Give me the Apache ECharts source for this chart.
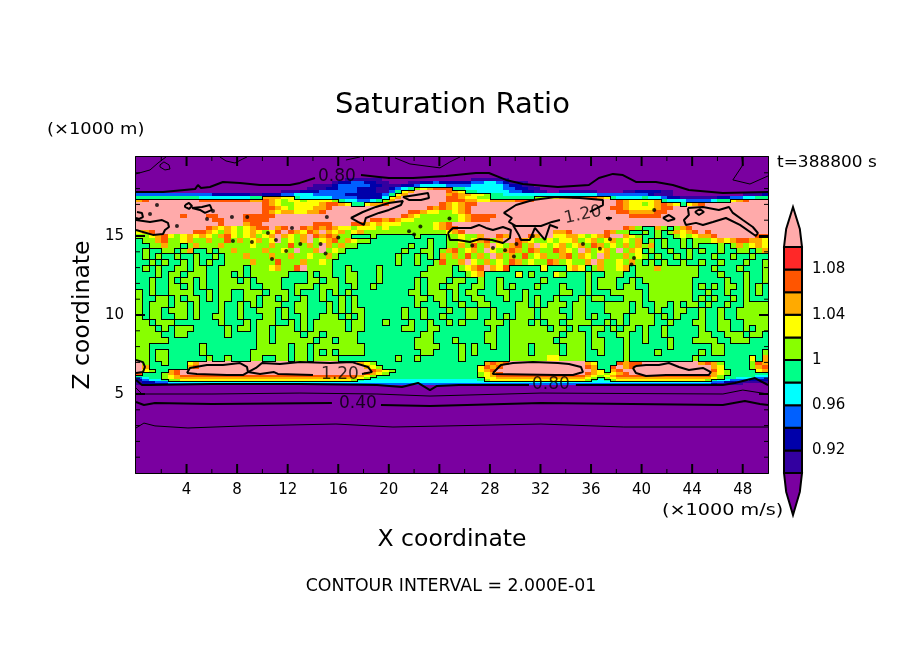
<!DOCTYPE html>
<html>
<head>
<meta charset="utf-8">
<title>Saturation Ratio</title>
<script src="https://cdn.jsdelivr.net/npm/echarts@6/dist/echarts.min.js"></script>
<style>
  html, body { margin: 0; background: #fff; }
  #main { width: 904px; height: 654px; }
</style>
</head>
<body>
<div id="main"></div>
<script>
// colour classes of the field, lowest to highest
const levelCodes = ["p", "i", "d", "b", "c", "s", "l", "y", "o", "r", "R", "k"];
const levelColors = ["#7a00a0", "#3300a0", "#0000aa", "#0060ff", "#00ffff", "#00ff88", "#88ff00", "#ffff00", "#ffaa00", "#ff5500", "#ff2828", "#ffaaaa"];
const colorbarEdges = [0.90, 0.92, 0.94, 0.96, 0.98, 1.00, 1.02, 1.04, 1.06, 1.08, 1.10];
const colorbarLabels = { "0.92": "0.92", "0.96": "0.96", "1.00": "1", "1.04": "1.04", "1.08": "1.08" };
const oneIndex = 6; // first class at or above 1.00

// tick positions on the frame
const xMajorTicks = [4, 8, 12, 16, 20, 24, 28, 32, 36, 40, 44, 48];
const xMinorTicks = [2, 6, 10, 14, 18, 22, 26, 30, 34, 38, 42, 46];
const zMajorTicks = [5, 10, 15];
const zMinorTicks = [1, 2, 3, 4, 6, 7, 8, 9, 11, 12, 13, 14, 16, 17, 18, 19];

// cells are 0.5 wide in X, rows have their own heights in Z (top to bottom)
const cellWidth = 0.5;
const rowEdges = [20, 18.67, 18.48, 18.29, 18.10, 17.91, 17.72, 17.53, 17.34, 17.15, 16.90, 16.65, 16.39, 16.14, 15.89, 15.63, 15.38, 15.13, 14.87, 14.56, 14.24, 13.92, 13.54, 13.16, 12.78, 12.41, 12.03, 11.65, 11.27, 10.89, 10.51, 10.13, 9.75, 9.37, 8.99, 8.61, 8.23, 7.85, 7.47, 7.09, 6.84, 6.58, 6.39, 6.20, 6.08, 5.95, 5.82, 5.70, 5.57, 0];
const fieldRows = [
  "pppppppppp pppppppppp pppppppppp pppppppppp pppppppppp pppppppppp pppppppppp pppppppppp pppppppppp pppppppppp",
  "pppppppppp pppppppppp pppppppppp pppiiiiiip pppppppppp pppiiiiiip pppppppppp pppppppppp pppppppppp pppppppppp",
  "pppppppppp pppppppppp pppppppppp piddbbddii pppiiddbdd dddbbccbdi iipppppppp pppppppppp pppppppppp pppppppppp",
  "pppppppppp pppppppppp ppppppppii idbbbbbddi iiddbccccb bbbcccccbd diippppppp pppppppppp pppppppppp pppppppppp",
  "pppppppppp pppppppppp pppppppiii ddbbbdddii dbcslyorrr ssccccccbb ddiipppppp pppppppppp pppppppppp pppppppppp",
  "pppppppppp pppppppppp pppiiidddb bbbbbdddii bsyokkkkkr oysscccccb bddiippiii iiippppiid dddiippppp pppppppppp",
  "bbbbbbbbbb bbddddddii dddbbcccbb bbbddddddb syokkkkkko rooyylsscc cccccccccc cccbbbbbbb bdiiippppp ppppppiiid",
  "ssssssssss ccccccccss oooyyscccc cbbbbddddc yokkkkkkkr royyllssss sssllyyoor rrroyscccc sccbddiiii iiddbbccss",
  "orkkkkkkkk rrrrrrrroo roylyylyyy ylsccbbcsl okkkkkkkkr rrooyyoooo rrrkkkkkkk kkkkkkroyy yyoscccbbb bcssyorkkk",
  "kkkkkkkkkk kkkkkkkkkk royllyyyyo rroyssyoor kkkkkkkkro yorrkkkkkk kkkkkkkkkk kkkkkkroyy lyoroysyor kkkkkkkkkk",
  "kkkkkkkkkk kkkkkkkkkk rroylyyyoo rkkkkkkkkk kkkkkkroro yorkkkkkkk kkkkkkkkkk kkkkkrroyy yyorrkkkkk kkkkkkkkkk",
  "kkkkkkkkkk kkkkkkkkkk royooyyoor kkkkkkkkkk kkkrroyyll yorkkkkkkk kkkkkkkkkk kkkkkkrroo oorrkkkkkk kkkkkkkkkk",
  "kkkkkkkrkk krrkkkkrrr rrkkkkkkkk kkkkkkkkkk kkroylllll lyorrrrkkk kkkkkkkkkk kkkkkkkkrr rrrkkkkkkk kkkkkkkkkk",
  "kkkkkkkkkk kkrrkkkrrr rkkkkkkkkk kkkkkkkrro royyllllll lyorrrkkkk kkkkkkkkkk kkkkkkkkkk kkkkkkkkkk kkkkkkkkkk",
  "kkkkkkkkkk kkkrkkkorr kkkkkkkkrr rkkkrroyoy yylllllyor kkkkkkkkkk kkkkkkkkkk kkkkkkkkkk kkkkkkkkkk kkkkkkkkkk",
  "kkkkkkkkkk kroyoylyor rkorkkroro royylyyyly lllllllyor rkkkkkkkkk kkkkkkkkkk kkkkkkkrol ssolslorkk kkkkkkkkkk",
  "yorkkkkkkr royloylyoy lyrkroyrok oyolyollll llllllllly orkkkkkkkk kkkkkkoork kkkkrollss lslsloyork rkkkkkkkkk",
  "llyorylyoy oylorylyol yokoylokro rollssslss sssslssssl lyllokkrok kkrokkyyoo ylyorkkoyl sslsslylyo orkkkkkkrr",
  "sllorllyol lollrlolyo lyklylokly orloyllsss sssssslssl lylyorlokk royllylyyo lyolyolylo slslsslsll lyoyorrooy",
  "ssllollslo lllollllyl lollrllolk olollsssss ssslsslssl lolrlokylo rlokylyoly olrolylolo loslsslsls sslslolyoy",
  "slssllslos slsllollll ollylkllok lylsssssss sslssllslo rlyolkylor olrollroyl kolyolkloy slsslsslsl sslssllslo",
  "slslsslssl sslsllloll lollollyll olssssssss slsslslsol olrlolkolo lrlyollorl oylkolloly lslsslslss slsslsslss",
  "sslslsslsl slssllllol llrlllolly lsssssssss slsslsslrl lokylolylr olyllrolyl lokollylol slslsslssl sslssslssl",
  "slslssllsl lssllllsll lyollrklll lsslssssls ssssssllll slyorkoyrs ssssysssyo yslollyosl llolllllls slssslsssl",
  "ssslsllsll lssllslsll llllssslsl lssllsssls ssssslllll sslyosssss yslsssylss slsslllssl llllllllls sslssslssl",
  "sslsslslls lsslllslsl lllsssslls llsllsssls sssslsllls llsslsslss sssslsssss slslllssls llllllllss ssslsslssl",
  "sslssllsls lsslllllss lllsslllsl llsslsslss sssslsllsl lssllsslsl ssslssslss slslllslls slllllllsl slsllslsls",
  "lslsslllls slsllsslll slllslsssl slslssssss sssllsllls lsllssslls slssssslls slssslllll slllllllss lsslsslsls",
  "lssllslsll slsllsslls llslsslssl sslslsssss ssssllslls lssllsssls slslsslsss lsllssslll slllllllsl slsslslsss",
  "lslllsllsl ssslsslsls lllssllsss lslslsssss sssslsssls slssllssss llslslllsl lsssllllsl ssllslslls lsslssllll",
  "lsllslllsl ssslsslssl llslsllsss lslsllssss sslsslsssl ssllsslsss lllslllssl lsssllllsl lslssllssl sslsslllll",
  "lsllssllsl ssllsslsss llslsslssl llslslssss sslsslssls ssllsslsls lllsllllsl lslssllsll llslslsssl sslsslllll",
  "llslllssss ssslssslsl llsslslsll lllsllsssl ssslsslssl slssslllsl llslsllsll llsslslsll llsslsssll ssllssllll",
  "lllslsllls sssslsllsl lslllslsll lllsllssss ssllssllss sssssslssl lllllsllsl ssllslslls lsslsssssl ssllsslsll",
  "llllssllss sssslssssl lsllllslls lllllsssss sssssllsss sssssllssl lllllllsll lslsssllss lsslsssssl lsslllslls",
  "lllllsssss sssssssssl lsllllllsl lslllsssss sssslllsss lssssllssl llllllslll lsllssslss lssslsssll llsslllsss",
  "llssssssss lssssssssl llllsllsll llllllssss ssssllllss slslsslssl llsllllsll lsllssslss sssslsssss sllsssssss",
  "llsllsssss lsssssssll llllsllsls lsllllssss sssssllsss slslsssssl llsllllsll lsslssslss sslssssssl sllssssssl",
  "llsllsssss slsslsssll ssllsllsll llssssssss slsslsssss slsssssssl lllllyylll lsssssslss ssssssssls sssssssyso",
  "klsslsssyo kkkkkkkkkk kkkkkkkkkk kkkkkoylss ssssssssss sssssorork kkkkkkkkkk koysssrorr kkkkkkkkko rolsssslro",
  "kossssssor kkkkkkkkkk kkkkkkkkkk kkkkkkoyls ssssssssss ssssyrorkk kkkkkkkkkk krossrkork kkkkkkkkkk koysssslor",
  "kylssorkkk kkkkkkkkkk kkkkkkkkkk kkkkkkkroy lsssssssss ssssyorkkk kkkkkkkkkk kkoysorkkk kkkkkkkkkk krylssssyo",
  "rssslorkkk kkkkkkkkkk kkkkkkkkkk kkkkkkroyl ssssssssss sssslyorkk kkkkkkkkkk kroylyorkk kkkkkkkkkk koylssssss",
  "sssslyorrr rrrrrrrrrr rrrrrrrrrr rrrrroylss ssssssssss sssslyorrr rrrrrrrrrr roylyorrrr rrrrrrrrrr rolssssscc",
  "bcsslyoooo oooooooooo oooooooooo oooooylsss ssssssssss sssssyyooo oooooooooo oylslyoooo oooooooooo oylsscccbb",
  "dbccsllyyy yyyyyyyyyy yyyyyyyyyy yyyylscccc cccccccccc ccccslyyyy yyyyyyyyyy ylscslyyyy yyyyyyyyyy lsccbbbddd",
  "iddbbccccc cccccccccc cccccccccc cccccccccc cccccccccc cccccccccc cccccccccc cccccccccc cccccccccc cbbddiiiii",
  "iddddbbbbb bbbbbbbbbb bbbbbbbbbb bbbbbbbbbb bbbbbbbbbb bbbbbbbbbb bbbbbbbbbb bbbbbbbbbb bbbbbbbbbb bdiiiipppp",
  "pppppppppp pppppppppp pppppppppp pppppppppp pppppppppp pppppppppp pppppppppp pppppppppp pppppppppp pppppppppp"
];

// contour lines as [x, z]
const thick08Left = [[0,17.78],[2.14,17.78],[4.67,17.97],[4.9,18.23],[5.14,18.04],[5.85,18.10],[6.88,18.42],[8.23,18.36],[9.81,18.23],[12.18,18.23],[12.97,18.36],[14.16,18.67]];
const thick08Right = [[17.8,18.86],[19.22,18.74],[20.01,18.67],[21.91,18.67],[24.52,18.8],[26.89,18.99],[27.92,18.99],[29.27,18.55],[30.61,18.29],[33.38,18.1],[35.83,18.23],[36.62,18.67],[37.73,18.93],[38.52,18.86],[39.55,18.42],[41.13,18.42],[42.47,18.23],[43.74,17.91],[46.43,17.72],[50,17.79]];
const thin06TopA = [[0,18.93],[1.11,19.18],[1.74,19.62],[2.37,20]];
const thin06TopLoop = [[1.9,19.5],[2.21,19.69],[2.61,19.5],[2.69,19.24],[2.29,19.18],[1.9,19.37],[1.9,19.5]];
const thin06TopB = [[6.64,20],[7.12,19.75],[7.83,19.62],[8.46,19.88],[8.78,20]];
const thin06TopC = [[16.61,19.81],[17.72,20]];
const thin06TopD = [[20.49,19.94],[21.67,19.56],[24.05,19.31],[24.84,19.69],[25.63,20]];
const thin06TopE = [[47.93,20],[48.01,19.5],[47.22,18.55],[48.57,18.29],[50,18.8]];
const thick08LowA = [[0,5.89],[0.47,5.57],[1.11,5.57],[6.01,5.63],[12.97,5.63],[19.06,5.57],[21.04,5.44],[22.31,5.7],[23.26,5.25],[23.81,5.51],[25.55,5.57],[31.09,5.57]];
const thick08LowB = [[34.8,5.57],[46.43,5.57],[47.38,5.7],[48.33,5.89],[48.96,6.01],[50,5.57]];
const thin06Low = [[0,5.38],[0.47,5],[6.01,5],[12.97,5.06],[19.06,5],[23.26,4.87],[32.04,5.06],[46.43,5],[48.01,5.25],[50,5]];
const thick04A = [[0,4.49],[0.63,4.3],[1.5,4.43],[6.01,4.37],[15.5,4.43]];
const thick04B = [[19.38,4.3],[23.26,4.24],[32.04,4.43],[46.43,4.3],[48.17,4.56],[49.36,4.37],[50,4.3]];
const thin02 = [[0,2.85],[0.63,3.16],[1.5,2.98],[4.11,2.85],[8.62,2.98],[15.82,3.1],[20.33,2.91],[32.04,3.1],[38.6,2.91],[50,2.91]];
const cap12LeftA = [[0.08,16.52],[0.47,16.46],[0.55,16.2],[0.24,16.08],[0,16.14]];
const cap12LeftB = [[0,16.01],[1.11,15.89],[2.06,16.01],[2.53,15.83],[2.61,15.57],[2.29,15.38],[2.14,15.13],[1.34,15.07],[0,15.38]];
const cap12Ring = [[3.88,16.96],[4.19,17.09],[4.43,16.9],[4.19,16.71],[3.88,16.84],[3.88,16.96]];
const cap12Tail = [[4.43,16.77],[5.22,16.84],[5.85,16.96],[6.01,16.65],[5.46,16.46],[5.06,16.65],[4.43,16.77]];
const cap12MidA = [[17.0,16.14],[17.95,16.52],[18.98,16.84],[20.01,17.09],[21.12,17.22],[20.96,16.96],[20.01,16.65],[19.22,16.46],[18.18,16.14],[18.03,15.7],[17.56,15.89],[17.0,16.14]];
const cap12MidB = [[21.12,17.47],[22.15,17.6],[23.1,17.72],[23.18,17.41],[22.54,17.28],[21.59,17.28],[21.12,17.47]];
const cap12Wide = [[35.91,16.52],[36.94,16.96],[36.94,17.28],[35.12,17.41],[33.22,17.47],[31.4,17.28],[30.06,16.96],[29.11,16.46],[29.74,16.14],[29.5,15.89],[30.06,15.63],[31.4,15.63],[32.04,15.63],[32.91,15.89],[33.54,16.01]];
const cap12Squiggle = [[24.68,15.19],[25.07,15.51],[25.71,15.51],[26.5,15.51],[27.13,15.7],[27.69,15.51],[28.24,15.38],[29.03,15.57],[29.66,15.38],[29.58,14.87],[29.03,14.56],[28.16,14.75],[27.21,14.81],[26.42,14.62],[25.47,14.75],[24.84,14.75],[24.68,15.19]];
const cap12Teeth = [[29.82,15.7],[30.29,15.07],[30.45,14.75],[31.16,14.75],[31.56,15.51],[32.35,14.75],[32.75,15.7],[33.38,15.51]];
const cap12Right = [[43.66,16.77],[44.85,16.84],[46.11,16.65],[46.91,16.84],[47.22,16.46],[48.01,16.01],[48.8,15.57],[49.2,15.19],[49.04,15],[47.78,15.7],[46.67,16.14],[45.64,15.89],[44.85,15.7],[44.3,15.83],[43.5,15.7],[43.35,16.01],[43.74,16.33],[43.66,16.77]];
const cap12RightRing = [[44.22,16.52],[44.61,16.71],[44.93,16.52],[44.54,16.33],[44.22,16.52]];
const cap12Small = [[41.69,16.14],[42.16,16.33],[42.63,16.08],[42.08,15.95],[41.69,16.14]];
const cap12Edge = [[50,14.94],[49.28,14.94]];
const cap12Dash = [[37.18,16.14],[37.65,16.14]];
const lens12Edge = [[0,7.15],[0.55,7.02],[0.71,6.71],[0.55,6.39],[0,6.33]];
const lens12A = [[4.03,6.33],[4.27,6.65],[5.61,6.84],[6.88,6.84],[8.23,6.96],[8.78,6.71],[8.86,6.39],[8.46,6.2],[7.2,6.2],[4.82,6.27],[4.03,6.33]];
const lens12B = [[8.86,6.39],[9.49,6.65],[9.97,6.96],[11.39,6.9],[12.97,7.02],[15.35,6.96],[17.09,7.02],[18.35,6.71],[18.67,6.39],[17.88,6.27]];
const lens12BLow = [[8.86,6.39],[9.81,6.27],[10.92,6.39],[11.23,6.27],[14,6.2]];
const lens12C = [[28.24,6.33],[28.87,6.84],[29.82,6.96],[31.4,7.02],[33.38,6.96],[34.25,6.9],[35.2,6.71],[35.36,6.39],[34.57,6.2],[33.22,6.2],[28.24,6.27],[28.24,6.33]];
const lens12D = [[39.31,6.65],[39.55,6.33],[40.35,6.14],[41.93,6.2],[43.74,6.2],[45.32,6.2],[45.48,6.39],[44.85,6.65],[43.74,6.52],[42.95,6.71],[42.16,6.96],[41.37,6.84],[40.35,6.84],[39.55,6.77],[39.31,6.65]];
const thickContours = [thick08Left, thick08Right, thick08LowA, thick08LowB, thick04A, thick04B, cap12LeftA, cap12LeftB, cap12Ring, cap12Tail, cap12MidA, cap12MidB, cap12Wide, cap12Squiggle, cap12Teeth, cap12Right, cap12RightRing, cap12Small, cap12Edge, cap12Dash, lens12Edge, lens12A, lens12B, lens12BLow, lens12C, lens12D];
const thinContours = [thin06TopA, thin06TopLoop, thin06TopB, thin06TopC, thin06TopD, thin06TopE, thin06Low, thin02];

// tiny closed contours that show up as black specks
const speckPoints = [[1.66,16.96],[1.11,16.39],[6.09,16.58],[3.24,15.63],[5.62,16.08],[7.59,16.2],[15.10,16.2],[8.8,16.2],[7.67,14.68],[11.07,14.75],[10.44,15.19],[12.34,15.51],[10.76,13.54],[9.17,14.62],[11.88,14.05],[13.0,14.5],[14.6,14.5],[15.0,13.9],[16.0,14.9],[24.8,16.1],[21.6,15.3],[22.5,15.6],[22.0,15.1],[28.24,14.24],[26.6,14.4],[29.2,14.1],[30.1,14.5],[29.9,13.7],[31.4,15.0],[35.36,14.5],[39.4,13.6],[39.2,13.2],[36.7,14.2],[37.5,14.8],[41.0,16.65],[37.4,16.1]];

// contour labels: x, z, text, rotation
const contourLabelX = [15.9, 35.36, 16.14, 32.83, 17.56];
const contourLabelZ = [18.74, 16.33, 6.2, 5.57, 4.37];
const contourLabelText = ["0.80", "1.20", "1.20", "0.80", "0.40"];
const contourLabelTurn = [0, 12, 0, 0, 0];

// merge equal neighbours in a row into one rect, and collect the 1.00 contour edges
const cleanRows = fieldRows.map(function (r) { return r.replace(/ /g, ""); });
const fieldCells = [];
const oneContour = [];
cleanRows.forEach(function (row, i) {
  const top = rowEdges[i], bottom = rowEdges[i + 1];
  let start = 0;
  for (let j = 1; j <= row.length; j++) {
    if (j === row.length || row[j] !== row[start]) {
      fieldCells.push([start * cellWidth, j * cellWidth, bottom, top, levelCodes.indexOf(row[start])]);
      start = j;
    }
  }
  for (let j = 0; j < row.length; j++) {
    const here = levelCodes.indexOf(row[j]) >= oneIndex;
    if (j + 1 < row.length && here !== (levelCodes.indexOf(row[j + 1]) >= oneIndex)) {
      oneContour.push([(j + 1) * cellWidth, bottom, (j + 1) * cellWidth, top]);
    }
    const below = cleanRows[i + 1];
    if (below && j < below.length && here !== (levelCodes.indexOf(below[j]) >= oneIndex)) {
      oneContour.push([j * cellWidth, bottom, (j + 1) * cellWidth, bottom]);
    }
  }
});

// inward ticks on all four sides of the frame: [x, z, dx, dz in pixels, width]
const frameTicks = [];
function addXTicks(values, len, width) {
  values.forEach(function (v) {
    frameTicks.push([v, 0, 0, -len, width]);
    frameTicks.push([v, 20, 0, len, width]);
  });
}
function addZTicks(values, len, width) {
  values.forEach(function (v) {
    frameTicks.push([0, v, len, 0, width]);
    frameTicks.push([50, v, -len, 0, width]);
  });
}
addXTicks(xMajorTicks, 9, 2);
addXTicks(xMinorTicks, 4, 1);
addZTicks(zMajorTicks, 9, 2);
addZTicks(zMinorTicks, 4, 1);

function renderTick(params, api) {
  const a = api.coord([api.value(0), api.value(1)]);
  return {
    type: "line",
    shape: { x1: a[0], y1: a[1], x2: a[0] + api.value(2), y2: a[1] + api.value(3) },
    style: { stroke: "#000", lineWidth: api.value(4) }
  };
}

function renderCell(params, api) {
  const a = api.coord([api.value(0), api.value(2)]);
  const b = api.coord([api.value(1), api.value(3)]);
  const x = Math.round(a[0]), y = Math.round(b[1]);
  return {
    type: "rect",
    shape: { x: x, y: y, width: Math.round(b[0]) - x, height: Math.round(a[1]) - y },
    style: { fill: levelColors[api.value(4)] }
  };
}

function renderEdge(params, api) {
  const a = api.coord([api.value(0), api.value(1)]);
  const b = api.coord([api.value(2), api.value(3)]);
  return {
    type: "line",
    shape: { x1: Math.round(a[0]) + 0.5, y1: Math.round(a[1]) + 0.5, x2: Math.round(b[0]) + 0.5, y2: Math.round(b[1]) + 0.5 },
    style: { stroke: "#000", lineWidth: 1, lineCap: "square" }
  };
}

// colour bar boxes plus the two end triangles
const barStep = 0.02;
const barBoxes = colorbarEdges.slice(0, -1).map(function (v, i) { return [v, colorbarEdges[i + 1], i + 1]; });

function renderBarBox(params, api) {
  const a = api.coord([0, api.value(0)]);
  const b = api.coord([1, api.value(1)]);
  return {
    type: "rect",
    shape: { x: a[0], y: b[1], width: b[0] - a[0], height: a[1] - b[1] },
    style: { fill: levelColors[api.value(2)], stroke: "#000", lineWidth: 2 }
  };
}

function renderBarEnd(params, api) {
  const base = api.value(0), tip = api.value(1);
  const p = function (x, v) { return api.coord([x, v]); };
  return {
    type: "polygon",
    shape: { points: [p(0, base), p(0.12, base + (tip - base) * 0.45), p(0.5, tip), p(0.88, base + (tip - base) * 0.45), p(1, base)] },
    style: { fill: levelColors[api.value(2)], stroke: "#000", lineWidth: 2 }
  };
}

const frameLine = { onZero: false, lineStyle: { color: "#000", width: 2 } };
const fontBase = '"DejaVu Sans", sans-serif';

function textItem(text, x, y, size, align, rotation, stretch) {
  return {
    type: "text", x: x, y: y, rotation: rotation || 0, scaleX: stretch || 1, silent: true,
    style: { text: text, fill: "#000", font: size + "px " + fontBase, textAlign: align || "center", textVerticalAlign: "middle" }
  };
}

const chart = echarts.init(document.getElementById("main"));
chart.setOption({
  animation: false,
  backgroundColor: "#fff",
  title: {
    text: "Saturation Ratio", left: 447.5, top: 86, textAlign: "center",
    textStyle: { fontFamily: fontBase, fontWeight: "normal", fontSize: 29, color: "#000" }
  },
  graphic: [
    textItem("(\u00d71000 m)", 47, 130, 15, "left", 0, 1.19),
    textItem("t=388800 s", 777, 163, 15, "left", 0, 1.13),
    textItem("Z coordinate", 83, 315, 23.5, "center", Math.PI / 2),
    textItem("X coordinate", 452, 540, 23.5, "center"),
    textItem("(\u00d71000 m/s)", 662, 511, 16, "left", 0, 1.2),
    textItem("CONTOUR INTERVAL = 2.000E-01", 451, 587, 17, "center", 0, 1.02)
  ],
  grid: [
    { left: 136, top: 157, width: 632, height: 316 },
    { left: 784, top: 247, width: 18, height: 226 }
  ],
  xAxis: [
    {
      type: "value", gridIndex: 0, position: "bottom", min: 0, max: 50, interval: 4,
      splitLine: { show: false }, axisLine: frameLine, axisTick: { show: false },
      axisLabel: { color: "#000", fontFamily: fontBase, fontSize: 15, margin: 10, showMaxLabel: false, showMinLabel: false }
    },
    {
      type: "value", gridIndex: 0, position: "top", min: 0, max: 50, interval: 4,
      splitLine: { show: false }, axisLine: frameLine, axisTick: { show: false }, axisLabel: { show: false }
    },
    { type: "value", gridIndex: 1, min: 0, max: 1, show: false }
  ],
  yAxis: [
    {
      type: "value", gridIndex: 0, position: "left", min: 0, max: 20, interval: 5,
      splitLine: { show: false }, axisLine: frameLine, axisTick: { show: false },
      axisLabel: {
        color: "#000", fontFamily: fontBase, fontSize: 15, margin: 12,
        formatter: function (v) { return v === 0 || v === 20 ? "" : String(v); }
      }
    },
    {
      type: "value", gridIndex: 0, position: "right", min: 0, max: 20, interval: 5,
      splitLine: { show: false }, axisLine: frameLine, axisTick: { show: false }, axisLabel: { show: false }
    },
    {
      type: "value", gridIndex: 1, position: "right", min: 0.90, max: 1.10, interval: barStep,
      splitLine: { show: false }, axisLine: { show: false }, axisTick: { show: false },
      axisLabel: {
        color: "#000", fontFamily: fontBase, fontSize: 15, margin: 10,
        formatter: function (v) { return colorbarLabels[v.toFixed(2)] || ""; }
      }
    }
  ],
  series: [
    {
      type: "custom", name: "field", xAxisIndex: 0, yAxisIndex: 0, silent: true, z: 2,
      renderItem: renderCell, data: fieldCells, encode: { x: [0, 1], y: [2, 3] }
    },
    {
      type: "custom", name: "contour 1.00", xAxisIndex: 0, yAxisIndex: 0, silent: true, z: 3,
      renderItem: renderEdge, data: oneContour, encode: { x: [0, 2], y: [1, 3] }
    }
  ].concat(thinContours.map(function (pts) {
    return {
      type: "line", xAxisIndex: 0, yAxisIndex: 0, data: pts, showSymbol: false, silent: true, z: 4,
      lineStyle: { color: "#000", width: 1 }
    };
  })).concat(thickContours.map(function (pts) {
    return {
      type: "line", xAxisIndex: 0, yAxisIndex: 0, data: pts, showSymbol: false, silent: true, z: 4,
      lineStyle: { color: "#000", width: 2 }
    };
  })).concat([
    {
      type: "scatter", name: "specks", xAxisIndex: 0, yAxisIndex: 0, silent: true, z: 4,
      symbolSize: 4, itemStyle: { color: "#000" }, data: speckPoints
    },
    {
      type: "scatter", name: "contour labels", xAxisIndex: 0, yAxisIndex: 0, silent: true, z: 5, symbolSize: 1,
      itemStyle: { color: "transparent" },
      data: contourLabelX.map(function (x, i) {
        return {
          value: [x, contourLabelZ[i]],
          label: {
            show: true, position: "inside", formatter: contourLabelText[i], rotate: contourLabelTurn[i],
            color: "#000", fontFamily: fontBase, fontSize: 17, textBorderWidth: 0
          }
        };
      })
    },
    {
      type: "custom", name: "frame ticks", xAxisIndex: 0, yAxisIndex: 0, silent: true, z: 6, clip: false,
      renderItem: renderTick, data: frameTicks, encode: { x: 0, y: 1 }
    },
    {
      type: "custom", name: "colour bar", xAxisIndex: 2, yAxisIndex: 2, silent: true, z: 3, clip: false,
      renderItem: renderBarBox, data: barBoxes, encode: { y: [0, 1] }
    },
    {
      type: "custom", name: "colour bar ends", xAxisIndex: 2, yAxisIndex: 2, silent: true, z: 3, clip: false,
      renderItem: renderBarEnd, data: [[1.10, 1.1354, 11], [0.90, 0.8628, 0]], encode: { y: [0, 1] }
    }
  ])
});
</script>
</body>
</html>
